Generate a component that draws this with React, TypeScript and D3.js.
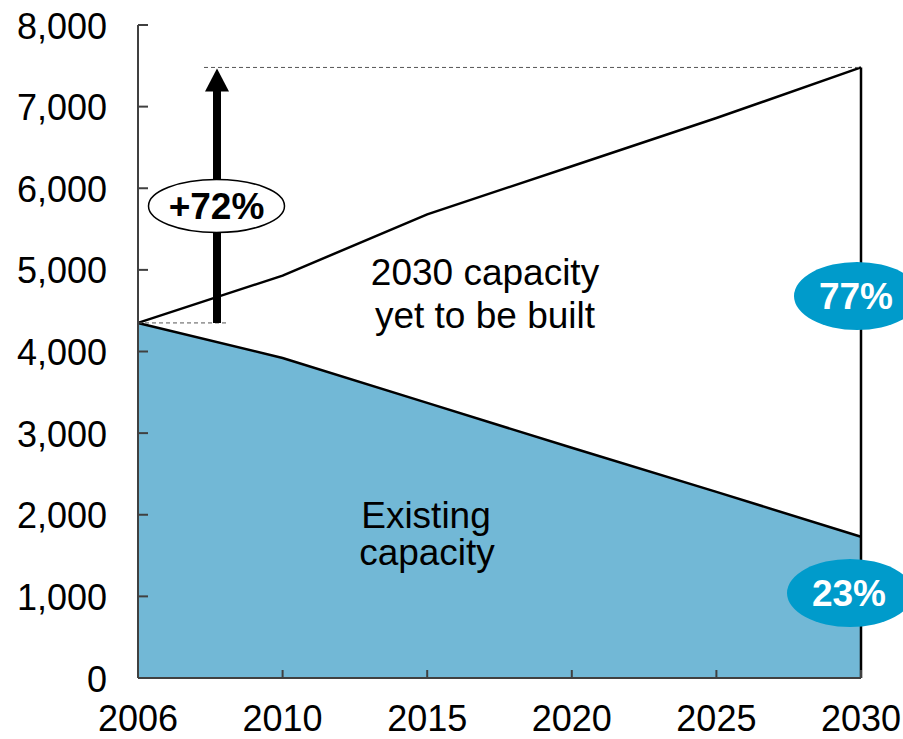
import React from "react";
import * as d3 from "d3";

const years = ["2006", "2010", "2015", "2020", "2025", "2030"];
const totalCapacity = [4350, 4930, 5680, 6270, 6860, 7480];
const existingCapacity = [4350, 3920, 3370, 2820, 2280, 1730];
const yTicks = [0, 1000, 2000, 3000, 4000, 5000, 6000, 7000, 8000];

const W = 903;
const H = 739;
const left = 138;
const right = 861;
const top = 25;
const bottom = 678;
const FONT = "'Liberation Sans', Arial, sans-serif";

export default function App() {
  const x = d3.scalePoint<string>().domain(years).range([left, right]);
  const y = d3.scaleLinear().domain([0, 8000]).range([bottom, top]);

  const idx = years.map((_, i) => i);
  const area = d3
    .area<number>()
    .x((i) => x(years[i])!)
    .y0(() => y(0))
    .y1((i) => y(existingCapacity[i]));
  const lineExisting = d3
    .line<number>()
    .x((i) => x(years[i])!)
    .y((i) => y(existingCapacity[i]));
  const lineTotal = d3
    .line<number>()
    .x((i) => x(years[i])!)
    .y((i) => y(totalCapacity[i]));

  const x0 = x(years[0])!;
  const xN = x(years[years.length - 1])!;
  const yStart = y(totalCapacity[0]);
  const yEnd = y(totalCapacity[totalCapacity.length - 1]);
  const arrowX = 217;

  return (
    <svg
      width={W}
      height={H}
      style={{ position: "absolute", left: 0, top: 0, background: "#fff" }}
      fontFamily={FONT}
    >
      <path d={area(idx)!} fill="#72B8D6" />
      <path d={lineExisting(idx)!} fill="none" stroke="#000" strokeWidth={2.5} />
      <path d={lineTotal(idx)!} fill="none" stroke="#000" strokeWidth={2.5} />
      <line x1={xN} x2={xN} y1={yEnd} y2={y(0)} stroke="#000" strokeWidth={2.5} />

      {/* dashed reference lines */}
      <line x1={204} x2={xN} y1={yEnd} y2={yEnd} stroke="#555" strokeWidth={1} strokeDasharray="4,3" />
      <line x1={x0} x2={228} y1={yStart} y2={yStart} stroke="#555" strokeWidth={1} strokeDasharray="4,3" />

      {/* arrow */}
      <line x1={arrowX} x2={arrowX} y1={yStart} y2={yEnd + 20} stroke="#000" strokeWidth={8} />
      <path
        d={`M${arrowX - 12},${yEnd + 24} L${arrowX + 12},${yEnd + 24} L${arrowX},${yEnd + 1} Z`}
        fill="#000"
      />
      <ellipse cx={216.5} cy={206} rx={68} ry={26.5} fill="#fff" stroke="#000" strokeWidth={1.5} />
      <text x={216.5} y={219} textAnchor="middle" fontSize={37} fontWeight="bold" fill="#000">
        +72%
      </text>

      {/* axes */}
      <g stroke="#404040" strokeWidth={2}>
        <line x1={left} x2={left} y1={top} y2={bottom} />
        <line x1={left} x2={right} y1={bottom} y2={bottom} />
        {yTicks.map((t) => (
          <line key={t} x1={left} x2={left + 10} y1={y(t)} y2={y(t)} />
        ))}
        {years.map((yr) => (
          <line key={yr} x1={x(yr)!} x2={x(yr)!} y1={bottom} y2={bottom - 8} />
        ))}
      </g>
      {yTicks.map((t) => (
        <text key={t} x={107} y={y(t) + 13.5} textAnchor="end" fontSize={36} fill="#000">
          {d3.format(",")(t)}
        </text>
      ))}
      {years.map((yr) => (
        <text key={yr} x={x(yr)!} y={731} textAnchor="middle" fontSize={36} fill="#000">
          {yr}
        </text>
      ))}

      {/* labels */}
      <text x={485} y={285} textAnchor="middle" fontSize={37} fill="#000">
        2030 capacity
      </text>
      <text x={485} y={328} textAnchor="middle" fontSize={37} fill="#000">
        yet to be built
      </text>
      <text x={426} y={528} textAnchor="middle" fontSize={37} fill="#000">
        Existing
      </text>
      <text x={427} y={565} textAnchor="middle" fontSize={37} fill="#000">
        capacity
      </text>

      <ellipse cx={857} cy={296} rx={63} ry={34} fill="#009BCB" />
      <text x={856} y={309} textAnchor="middle" fontSize={37} fontWeight="bold" fill="#fff">
        77%
      </text>
      <ellipse cx={850} cy={593} rx={63} ry={34} fill="#009BCB" />
      <text x={849} y={606} textAnchor="middle" fontSize={37} fontWeight="bold" fill="#fff">
        23%
      </text>
    </svg>
  );
}
